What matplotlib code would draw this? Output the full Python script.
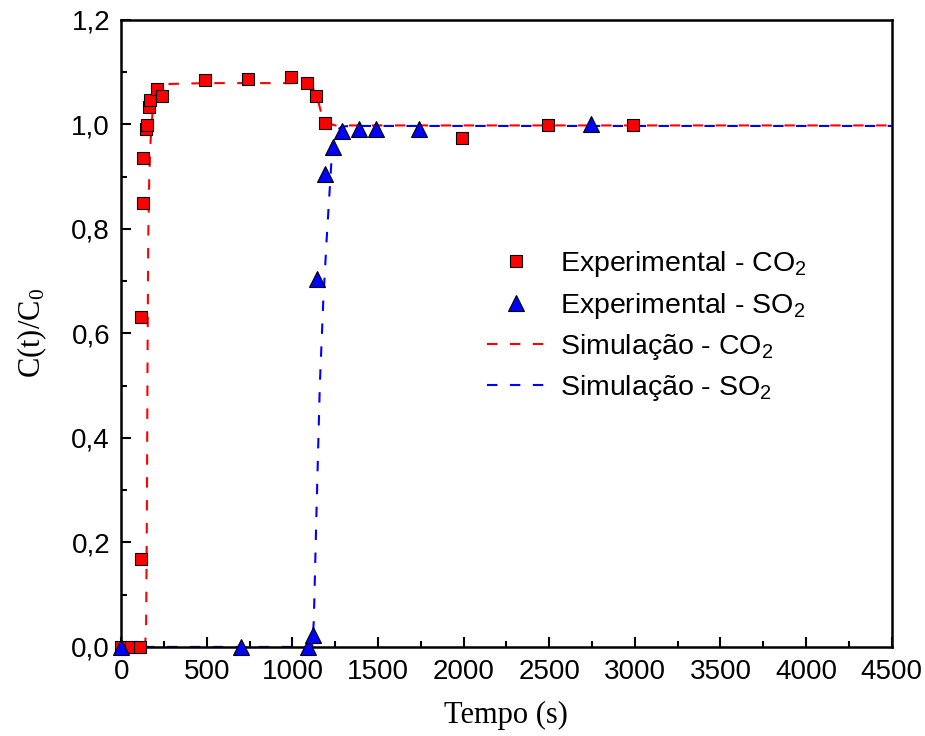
import matplotlib
matplotlib.use("Agg")
import matplotlib.pyplot as plt
from matplotlib.ticker import MultipleLocator, FuncFormatter

# experimental points
t_co2 = [0, 60, 110, 113, 117, 127, 129, 143, 148, 162, 168, 211, 240,
         490, 742, 992, 1088, 1138, 1191, 1989, 2491, 2991]
c_co2 = [0.0, 0.0, 0.0, 0.168, 0.631, 0.849, 0.935, 0.992, 0.998, 1.034, 1.046,
         1.067, 1.055, 1.084, 1.087, 1.091, 1.079, 1.055, 1.003, 0.973, 0.998, 0.998]

t_so2 = [0, 697, 1094, 1121, 1141, 1191, 1240, 1288, 1389, 1489, 1741, 2742]
c_so2 = [0.0, 0.0, 0.0, 0.022, 0.705, 0.906, 0.956, 0.988, 0.991, 0.991, 0.991, 1.001]

# simulated curves (traced)
t_sim_co2 = [0, 140, 146, 150, 154, 158, 164, 172, 185, 205, 240, 500, 1000,
             1080, 1120, 1150, 1170, 1200, 1250, 4500]
c_sim_co2 = [0.0, 0.0, 0.05, 0.25, 0.55, 0.78, 0.90, 0.97, 1.03, 1.065, 1.077,
             1.079, 1.079, 1.078, 1.07, 1.045, 1.02, 1.003, 0.998, 0.998]

t_sim_so2 = [0, 1115, 1125, 1140, 1160, 1180, 1200, 1215, 1228, 1245, 1265, 1290, 1350, 4500]
c_sim_so2 = [0.0, 0.0, 0.05, 0.25, 0.50, 0.66, 0.78, 0.86, 0.93, 0.97, 0.99, 0.996, 0.997, 0.997]

sans = "Liberation Sans"
serif = "Liberation Serif"
plt.rcParams["font.family"] = sans
plt.rcParams["font.size"] = 20

fig = plt.figure(figsize=(9.25, 7.36), dpi=100)
ax = fig.add_axes([0.131, 0.121, 0.833, 0.852])

ax.plot(t_sim_co2, c_sim_co2, color="#ff0000", lw=1.5, dashes=(5, 6),
        label="Simulação - CO$\\mathregular{_2}$", zorder=2)
ax.plot(t_sim_so2, c_sim_so2, color="#0000ff", lw=1.5, dashes=(5, 6),
        label="Simulação - SO$\\mathregular{_2}$", zorder=2)
ax.plot(t_co2, c_co2, "s", ms=9, mfc="#ff0000", mec="black", mew=0.8,
        label="Experimental - CO$\\mathregular{_2}$", zorder=3, clip_on=False)
ax.plot(t_so2, c_so2, "^", ms=11, mfc="#0000ff", mec="black", mew=0.8,
        label="Experimental - SO$\\mathregular{_2}$", zorder=4, clip_on=False)

ax.set_xlim(0, 4500)
ax.set_ylim(0, 1.2)
ax.xaxis.set_major_locator(MultipleLocator(500))
ax.xaxis.set_minor_locator(MultipleLocator(250))
ax.yaxis.set_major_locator(MultipleLocator(0.2))
ax.yaxis.set_minor_locator(MultipleLocator(0.1))
ax.yaxis.set_major_formatter(FuncFormatter(lambda v, p: f"{v:.1f}".replace(".", ",")))

ax.tick_params(which="both", direction="in", width=1.5, top=False, right=False)
ax.tick_params(which="major", length=7)
ax.tick_params(axis="x", which="major", pad=9)
ax.tick_params(axis="y", which="major", pad=8)
ax.tick_params(which="minor", length=4)
for s in ax.spines.values():
    s.set_linewidth(1.8)

ax.set_xlabel("Tempo (s)", family=serif, fontsize=22, labelpad=11)
ax.set_ylabel("$\\mathregular{C(t)/C_0}$", family=serif, fontsize=22, labelpad=16)

h, l = ax.get_legend_handles_labels()
order = [2, 3, 0, 1]
ax.legend([h[i] for i in order], [l[i] for i in order], frameon=False,
          loc="upper left", bbox_to_anchor=(0.442, 0.675), fontsize=20.5,
          handlelength=2.0, handletextpad=0.55, labelspacing=0.4)

fig.savefig("out.png", dpi=100)
